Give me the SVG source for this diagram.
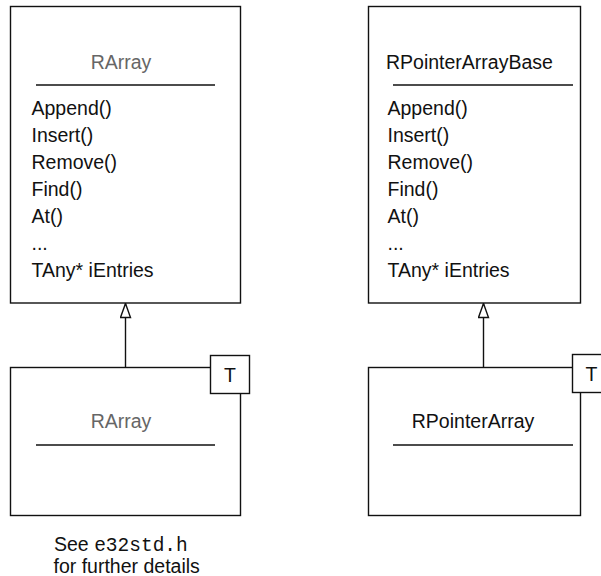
<svg xmlns="http://www.w3.org/2000/svg" width="601" height="576" viewBox="0 0 601 576">
  <style>
    .box { fill: #fff; stroke: #111; stroke-width: 1.4; }
    .sep { stroke: #111; stroke-width: 1.4; fill: none; }
    .txt { font-family: "Liberation Sans", Arial, Helvetica, sans-serif; font-size: 19.5px; fill: #111; }
    .title-gray { fill: #666; }
    .mono { font-family: "Liberation Mono", "Courier New", monospace; font-size: 19.5px; fill: #111; }
    .conn { stroke: #111; stroke-width: 1.4; fill: none; }
    .tri { fill: #fff; stroke: #111; stroke-width: 1.4; stroke-linejoin: miter; }
  </style>
  <defs>
    <marker id="inherit" viewBox="0 0 16 12" refX="15" refY="6" markerWidth="16" markerHeight="12" markerUnits="userSpaceOnUse" orient="auto">
      <path class="tri" d="M1,1 L15,6 L1,11 Z"/>
    </marker>
  </defs>

  <rect width="601" height="576" fill="#fff"/>

  <!-- base class: RArray (untemplated) -->
  <g id="rarray-base">
    <rect class="box" x="10.5" y="6.5" width="230" height="296.5"/>
    <text class="txt title-gray" x="121" y="69" text-anchor="middle">RArray</text>
    <line class="sep" x1="36" y1="85" x2="215" y2="85"/>
    <text class="txt" x="31.5" y="115">Append()</text>
    <text class="txt" x="31.5" y="142">Insert()</text>
    <text class="txt" x="31.5" y="169">Remove()</text>
    <text class="txt" x="31.5" y="196">Find()</text>
    <text class="txt" x="31.5" y="223">At()</text>
    <text class="txt" x="31.5" y="250">...</text>
    <text class="txt" x="31.5" y="277">TAny* iEntries</text>
  </g>

  <!-- base class: RPointerArrayBase -->
  <g id="rpointerarraybase">
    <rect class="box" x="368.5" y="6.5" width="212" height="296.5"/>
    <text class="txt" x="386" y="69">RPointerArrayBase</text>
    <line class="sep" x1="393" y1="85" x2="573" y2="85"/>
    <text class="txt" x="387.5" y="115">Append()</text>
    <text class="txt" x="387.5" y="142">Insert()</text>
    <text class="txt" x="387.5" y="169">Remove()</text>
    <text class="txt" x="387.5" y="196">Find()</text>
    <text class="txt" x="387.5" y="223">At()</text>
    <text class="txt" x="387.5" y="250">...</text>
    <text class="txt" x="387.5" y="277">TAny* iEntries</text>
  </g>

  <!-- inheritance connectors -->
  <g id="connectors">
    <line class="conn" x1="125.5" y1="367" x2="125.5" y2="303.5" marker-end="url(#inherit)"/>
    <line class="conn" x1="483.5" y1="367" x2="483.5" y2="303.5" marker-end="url(#inherit)"/>
  </g>

  <!-- template class: RArray<T> -->
  <g id="rarray-template">
    <rect class="box" x="10.5" y="367.5" width="230" height="148"/>
    <text class="txt title-gray" x="121" y="428" text-anchor="middle">RArray</text>
    <line class="sep" x1="36" y1="445" x2="215" y2="445"/>
    <rect class="box" x="210.5" y="355.5" width="39" height="38"/>
    <text class="txt" x="230" y="381.5" text-anchor="middle">T</text>
  </g>

  <!-- template class: RPointerArray<T> -->
  <g id="rpointerarray-template">
    <rect class="box" x="368.5" y="367.5" width="212" height="148"/>
    <text class="txt" x="473" y="428" text-anchor="middle">RPointerArray</text>
    <line class="sep" x1="393" y1="445" x2="573" y2="445"/>
    <rect class="box" x="572.5" y="354.5" width="39" height="38"/>
    <text class="txt" x="591.5" y="381" text-anchor="middle">T</text>
  </g>

  <!-- footnote -->
  <g id="note">
    <text class="txt" x="54" y="551">See <tspan class="mono">e32std.h</tspan></text>
    <text class="txt" x="53.5" y="573">for further details</text>
  </g>
</svg>
